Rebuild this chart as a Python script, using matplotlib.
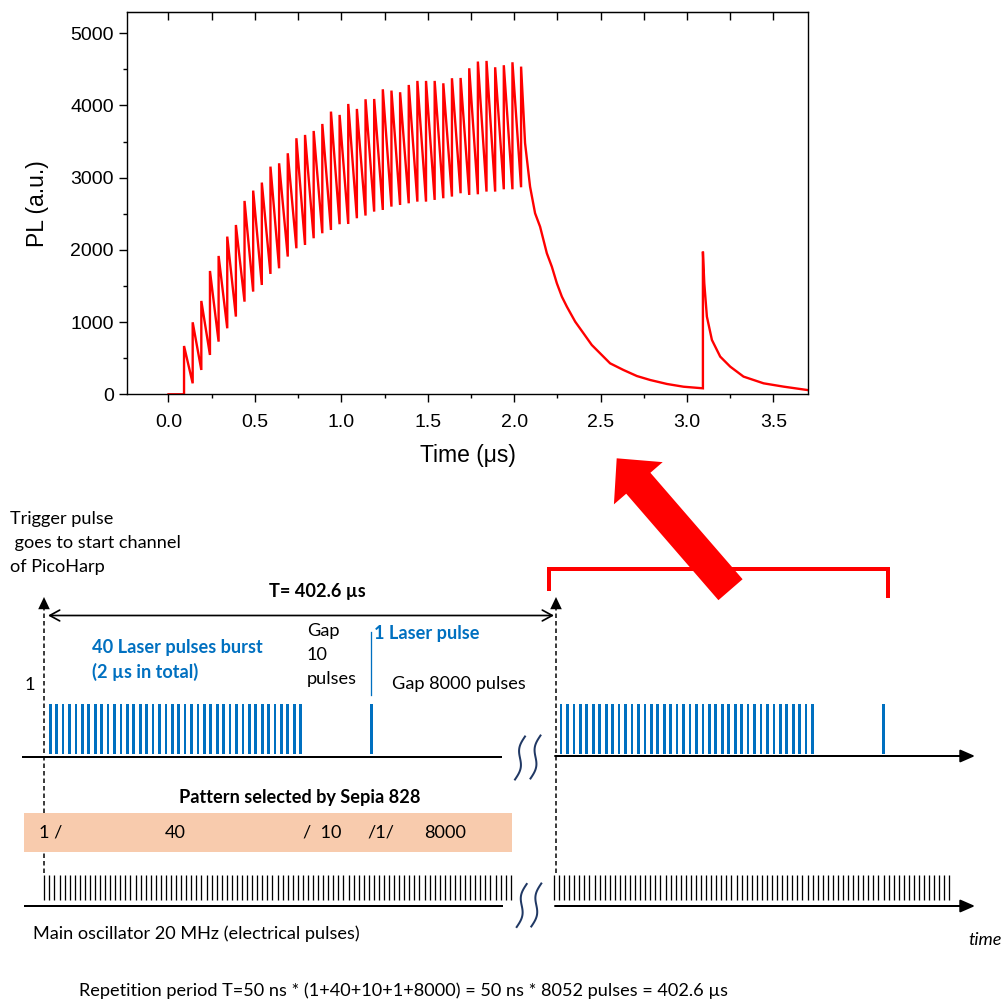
import numpy as np
import matplotlib
matplotlib.use("Agg")
import matplotlib.pyplot as plt
from matplotlib.patches import Rectangle, FancyArrow
from matplotlib.ticker import MultipleLocator

# PL transient recorded by the PicoHarp (time in us, PL in counts)
pulse_t = [0.09, 0.14, 0.19, 0.24, 0.29, 0.34, 0.39, 0.44, 0.49, 0.54,
           0.59, 0.64, 0.69, 0.74, 0.79, 0.84, 0.89, 0.94, 0.99, 1.04,
           1.09, 1.14, 1.19, 1.24, 1.29, 1.34, 1.39, 1.44, 1.49, 1.54,
           1.59, 1.64, 1.69, 1.74, 1.79, 1.84, 1.89, 1.94, 1.99, 2.04]
peak_pl = [669, 997, 1293, 1708, 1916, 2184, 2345, 2678, 2821, 2932,
           3153, 3199, 3338, 3546, 3592, 3647, 3744, 3915, 3869, 4021,
           3952, 4086, 4090, 4224, 4206, 4183, 4284, 4340, 4340, 4340,
           4307, 4377, 4381, 4515, 4608, 4617, 4529, 4557, 4598, 4538]
trough_pl = [152, 337, 545, 729, 914, 1076, 1283, 1422, 1514, 1667,
             1745, 1907, 2022, 2068, 2161, 2230, 2276, 2355, 2359, 2438,
             2475, 2530, 2553, 2599, 2622, 2645, 2668, 2668, 2692, 2715,
             2738, 2784, 2761, 2770, 2807, 2807, 2839, 2839, 2867]
tail_t = [2.063, 2.092, 2.121, 2.150, 2.189, 2.218, 2.247, 2.276, 2.305,
          2.353, 2.401, 2.449, 2.497, 2.555, 2.632, 2.710, 2.787, 2.884,
          2.980, 3.092]
tail_pl = [3480, 2875, 2507, 2321, 1953, 1767, 1537, 1352, 1213,
           1006, 845, 683, 568, 429, 337, 253, 198, 143, 105, 83]
probe_t = [3.092, 3.100, 3.115, 3.144, 3.192, 3.250, 3.327, 3.443, 3.559, 3.694]
probe_pl = [1976, 1537, 1076, 753, 522, 383, 245, 152, 106, 60]

# Sepia 828 pattern (in 50 ns oscillator periods)
burst_pulses = 40
gap_pulses = 10
probe_pulses = 1
long_gap = 8000
pattern_labels = ["1 /", "40", "/  10", "/1/", "8000"]
pattern_label_x = [39, 165, 303, 367, 424]

RED = "#ff0000"
BLUE = "#0070c0"
NAVY = "#203864"
PEACH = "#f8cbad"
PX = 0.72  # points per pixel at dpi 100

fig = plt.figure(figsize=(10.07, 10.01), dpi=100)

# ---------------- top: PL vs time ----------------
ax = fig.add_axes([127 / 1007, 1 - 394.3 / 1001, (808 - 127) / 1007, (394.3 - 12.3) / 1001])

# each laser pulse: vertical rise from the previous trough, then decay
t = [0.0]
pl = [0.0]
for i, tp in enumerate(pulse_t):
    t += [tp, tp]
    pl += [trough_pl[i - 1] if i else 0.0, peak_pl[i]]
t += tail_t + probe_t
pl += tail_pl + probe_pl

ax.plot(t, pl, color=RED, lw=1.7, solid_joinstyle="miter")

ax.set_xlim(-0.24, 3.70)
ax.set_ylim(0, 5290)
ax.xaxis.set_major_locator(MultipleLocator(0.5))
ax.xaxis.set_minor_locator(MultipleLocator(0.25))
ax.yaxis.set_major_locator(MultipleLocator(1000))
ax.yaxis.set_minor_locator(MultipleLocator(500))
ax.xaxis.set_major_formatter(plt.FuncFormatter(lambda v, p: f"{v:.1f}"))

ax.tick_params(which="major", direction="out", length=5.5, width=1.0,
               labelsize=14, top=False, right=False)
ax.tick_params(axis="x", which="major", pad=9)
ax.tick_params(axis="y", which="major", pad=4)
ax.tick_params(which="minor", direction="out", length=2.8, width=1.0,
               top=False, right=False)
for sp in ax.spines.values():
    sp.set_linewidth(1.0)

top = ax.secondary_xaxis("top")
top.xaxis.set_major_locator(MultipleLocator(0.25))
top.tick_params(direction="in", length=5.5, width=1.0, labeltop=False)

ax.set_xlabel("Time (μs)", fontsize=16.5, family="Liberation Sans", labelpad=9)
ax.set_ylabel("PL (a.u.)", fontsize=16.5, family="Liberation Sans", labelpad=15)
plt.setp(ax.get_xticklabels() + ax.get_yticklabels(), family="Liberation Sans")

# ---------------- bottom: pulse pattern diagram (pixel coordinates) ----------------
d = fig.add_axes([0, 0, 1, 1])
d.set_xlim(0, 1007)
d.set_ylim(1001, 0)
d.axis("off")
d.patch.set_visible(False)

FONT = ["Lato", "DejaVu Sans"]
FS = 13.1


def label(x, y, s, ha="left", color="k", weight="normal", style="normal", size=FS):
    d.text(x, y, s, ha=ha, va="center", color=color, fontweight=weight,
           fontstyle=style, fontsize=size, family=FONT)


label(10, 519, "Trigger pulse")
label(10, 543, " goes to start channel")
label(10, 567, "of PicoHarp")

# trigger lines with arrowheads
for xd in (44, 556):
    d.plot([xd, xd], [606, 876], color="k", lw=1.5 * PX, ls=(0, (3, 2)), zorder=1)
    d.annotate("", xy=(xd, 597), xytext=(xd, 610),
               arrowprops=dict(arrowstyle="-|>,head_length=0.8,head_width=0.38",
                               mutation_scale=11, color="k", lw=0,
                               shrinkA=0, shrinkB=0))

# period arrow
d.annotate("", xy=(48, 615.5), xytext=(554, 615.5),
           arrowprops=dict(arrowstyle="<->,head_length=0.55,head_width=0.3",
                           mutation_scale=13, color="k", lw=1.7 * PX,
                           shrinkA=0, shrinkB=0))
label(317, 591, "T= 402.6 µs", ha="center", weight="bold")

label(92, 648, "40 Laser pulses burst", color=BLUE, weight="bold")
label(92, 672, "(2 µs in total)", color=BLUE, weight="bold")
label(307, 631, "Gap")
label(307, 655, str(gap_pulses))
label(307, 679, "pulses")
label(25, 685, "1")
d.plot([370.5, 370.5], [632, 695], color=BLUE, lw=1.3 * PX)
label(374, 634, "1 Laser pulse", color=BLUE, weight="bold")
label(392, 684, f"Gap {long_gap} pulses")

# laser pulses in both periods
slots = list(range(burst_pulses)) + [burst_pulses + gap_pulses + probe_pulses - 1]
for x0, pitch in ((50.3, 6.42), (561.0, 6.45)):
    xs = [x0 + pitch * k for k in slots]
    d.bar(xs, 50.5, bottom=703.5, width=2.7, color=BLUE, linewidth=0, zorder=2)

# time axis of the laser pulses
d.plot([22, 502], [757, 757], color="k", lw=2 * PX, solid_capstyle="butt")
d.annotate("", xy=(975, 756), xytext=(555, 756),
           arrowprops=dict(arrowstyle="-|>,head_length=0.8,head_width=0.35",
                           mutation_scale=11, color="k", lw=2 * PX,
                           shrinkA=0, shrinkB=0))

# red bracket and arrow pointing to the measured transient
d.plot([549, 549, 888, 888], [591, 569, 569, 598], color=RED, lw=4 * PX,
       solid_joinstyle="miter", solid_capstyle="butt")
d.add_patch(FancyArrow(730.5, 589.7, -113.8, -131.4, width=32, head_width=64.5,
                       head_length=33, length_includes_head=True,
                       fc=RED, ec="none", zorder=5))

# Sepia pattern
label(299.5, 797, "Pattern selected by Sepia 828", ha="center", weight="bold")
d.add_patch(Rectangle((24, 813.3), 487.7, 38.4, fc=PEACH, ec="none", zorder=3))
for xl, s in zip(pattern_label_x, pattern_labels):
    d.text(xl, 833, s, ha="left", va="center", fontsize=FS, family=FONT, zorder=4)

# 20 MHz main oscillator
for x0, n in ((44.3, 93), (554.0, 79)):
    xs = [x0 + 5.07 * k for k in range(n)]
    d.vlines(xs, 875, 900, color="k", lw=1.3 * PX)
d.plot([24, 503], [906, 906], color="k", lw=2 * PX, solid_capstyle="butt")
d.annotate("", xy=(975, 906), xytext=(555, 906),
           arrowprops=dict(arrowstyle="-|>,head_length=0.8,head_width=0.35",
                           mutation_scale=11, color="k", lw=2 * PX,
                           shrinkA=0, shrinkB=0))

# break marks
s = np.linspace(-1, 1, 40)
for xc, yc in ((520, 758), (535.5, 757), (521.7, 905.5), (536.3, 905)):
    d.plot(xc + 5 * s - 3 * np.sin(np.pi * s), yc - 21.5 * s, color=NAVY, lw=2 * PX)

label(33, 934, "Main oscillator 20 MHz (electrical pulses)")
label(968, 940, "time", style="italic")
label(79, 991, "Repetition period T=50 ns * (1+40+10+1+8000) = 50 ns * 8052 pulses = 402.6 µs")

fig.savefig("out.png", dpi=100)
